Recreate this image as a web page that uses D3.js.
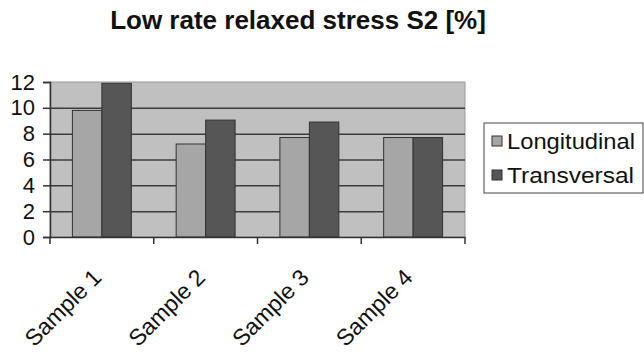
<!DOCTYPE html>
<html><head><meta charset="utf-8">
<script src="https://cdn.jsdelivr.net/npm/d3@7"></script>
<style>body{margin:0;background:#fff}svg{display:block}text{font-family:Arial,"Liberation Sans",sans-serif}</style>
</head><body>
<script>
const categories = ["Sample 1","Sample 2","Sample 3","Sample 4"];
const seriesNames = ["Longitudinal","Transversal"];
const longitudinal = [9.8, 7.2, 7.7, 7.7];
const transversal = [11.9, 9.05, 8.9, 7.7];
const yTicks = [0,2,4,6,8,10,12];
const colors = ["#a6a6a6","#565656"];

const W=644,H=353;
const svg=d3.select("body").append("svg").attr("width",W).attr("height",H);
const pL=50,pR=465,pT=82,pB=237;
const x=d3.scaleBand().domain(categories).range([pL,pR]).paddingInner(0).paddingOuter(0);
const x1=d3.scaleBand().domain(seriesNames).range([0,x.bandwidth()]).paddingInner(0).paddingOuter(0.76);
const y=d3.scaleLinear().domain([0,12]).range([pB,pT]);

// plot background
svg.append("rect").attr("x",pL).attr("y",pT).attr("width",pR-pL).attr("height",pB-pT)
  .attr("fill","#c0c0c0").attr("stroke","#9a9a9a").attr("stroke-width",1);

// gridlines
const grid=svg.append("g").attr("transform",`translate(${pL},0)`)
  .call(d3.axisLeft(y).tickValues(yTicks.filter(v=>v>0&&v<12)).tickSize(-(pR-pL)).tickFormat(""));
grid.select(".domain").remove();
grid.selectAll("line").attr("stroke","#3c3c3c").attr("stroke-width",1.5);

// bars
const data=categories.map((c,i)=>({c,vals:[longitudinal[i],transversal[i]]}));
svg.append("g").selectAll("g").data(data).join("g")
  .attr("transform",d=>`translate(${x(d.c)},0)`)
  .selectAll("rect").data(d=>d.vals.map((v,j)=>({v,s:seriesNames[j],j}))).join("rect")
  .attr("x",d=>x1(d.s)).attr("width",x1.bandwidth())
  .attr("y",d=>y(d.v)).attr("height",d=>y(0)-y(d.v))
  .attr("fill",d=>colors[d.j]).attr("stroke","#333").attr("stroke-width",1);

// y axis
const ya=svg.append("g").attr("transform",`translate(${pL},0)`)
  .call(d3.axisLeft(y).tickValues(yTicks).tickSize(7).tickPadding(8).tickFormat(d3.format("d")));
ya.select(".domain").attr("stroke","#333").attr("stroke-width",1.5);
ya.selectAll("line").attr("stroke","#333").attr("stroke-width",1.5);
ya.selectAll("text").attr("font-size",22).attr("fill","#111").attr("font-family","Arial, Liberation Sans, sans-serif");

// x axis
const xa=svg.append("g").attr("transform",`translate(0,${pB})`)
  .call(d3.axisBottom(x).tickSize(0).tickFormat(""));
xa.select(".domain").attr("stroke","#333").attr("stroke-width",1.5);
const edges=categories.map(c=>x(c)).concat([pR]);
svg.append("g").selectAll("line").data(edges).join("line")
  .attr("x1",d=>d).attr("x2",d=>d).attr("y1",pB).attr("y2",pB+7)
  .attr("stroke","#333").attr("stroke-width",1.5);
svg.append("g").selectAll("text").data(categories).join("text")
  .attr("transform",d=>`translate(${x(d)+x.bandwidth()/2+1},279) rotate(-45)`)
  .attr("text-anchor","end").attr("font-size",23).attr("fill","#111").text(d=>d);

// title
svg.append("text").attr("x",298).attr("y",29).attr("text-anchor","middle")
  .attr("font-size",26).attr("font-weight","bold").attr("fill","#111")
  .text("Low rate relaxed stress S2 [%]");

// legend
const lg=svg.append("g");
lg.append("rect").attr("x",484).attr("y",123).attr("width",159).attr("height",70)
  .attr("fill","#fff").attr("stroke","#444").attr("stroke-width",1);
seriesNames.forEach((s,i)=>{
  const yy=136+i*34;
  lg.append("rect").attr("x",492).attr("y",yy).attr("width",10).attr("height",10)
    .attr("fill",colors[i]).attr("stroke","#333").attr("stroke-width",1);
  lg.append("text").attr("x",507).attr("y",yy+13).attr("font-size",22).attr("fill","#111")
    .attr("textLength",i===0?128:127).attr("lengthAdjust","spacingAndGlyphs").text(s);
});
</script>
</body></html>
